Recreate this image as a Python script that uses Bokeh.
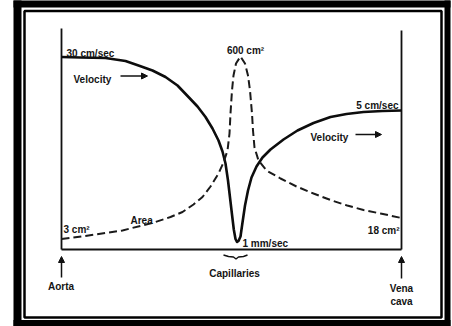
from bokeh.plotting import figure
from bokeh.models import Range1d, Label, Arrow, NormalHead
from bokeh.embed import file_html
from bokeh.resources import INLINE

# Schematic diagram units: x = distance along the circulation (0 = aorta, 340 = vena cava),
# y = height above the baseline.
velocity_x = [0, 19, 44, 64, 77, 91, 104, 116, 127, 136, 144, 151, 157, 161, 164, 166.5,
              168.5, 170.5, 172.3, 174, 175.5, 177, 179, 181, 183.5, 186.5, 190, 195, 201,
              209, 222, 236, 252, 269, 285, 302, 321, 340]
velocity_y = [192.5, 192, 191.5, 188.5, 184, 179, 172.5, 164, 152.5, 143, 132.5, 121, 109,
              98, 86, 69, 52, 35, 20, 10.5, 7.5, 8.5, 13, 27, 44, 59, 72, 83, 92, 100, 110,
              119, 126.5, 132.5, 135.5, 137.5, 138.5, 139]

area_x = [0, 27, 61, 94, 109, 121, 132, 141, 149, 157, 162, 166, 168, 169, 170.5, 172,
          174.5, 179, 183.5, 186.5, 188.5, 190.5, 191.5, 193, 197, 205, 219, 235, 252, 269,
          285.7, 302, 319, 340]
area_y = [10.5, 14, 19, 27.5, 32.5, 37.5, 45, 52.5, 63, 76, 87, 99, 116, 136, 159, 174,
          186, 193, 186, 174, 159, 136, 119, 102, 89, 79, 71, 63, 56, 49.5, 44, 39.5, 36,
          31.5]

brace_x = [162, 167, 172, 174.5, 177, 182, 186]
brace_y = [-5.5, -7, -7.5, -9.5, -7.5, -7, -5.5]

labels_top = ["30 cm/sec", "600 cm\u00b2", "5 cm/sec"]
labels_bottom = ["3 cm\u00b2", "1 mm/sec", "18 cm\u00b2"]
series_names = ["Velocity", "Area"]
place_names = ["Aorta", "Capillaries", "Vena", "cava"]

W, H = 452, 326
p = figure(width=W, height=H, output_backend="svg", toolbar_location=None,
           x_range=Range1d(-61, 391), y_range=Range1d(-77, 249),
           min_border=0, min_border_left=0, min_border_right=0,
           min_border_top=0, min_border_bottom=0,
           x_axis_location=None, y_axis_location=None)
p.grid.visible = False
p.outline_line_color = None
p.background_fill_color = "white"
p.border_fill_color = "white"

# picture frame (decoration)
p.quad(left=[-48, 383, -48, -48], right=[-40, 389, 389, 389],
       bottom=[-90, -90, 242, -90], top=[260, 260, 260, -70.5],
       fill_color="black", line_color=None)
p.quad(left=-37, right=380, bottom=-68, top=238.5, fill_color=None,
       line_color="black", line_width=2.5)

# axes of the diagram
p.line([0, 0], [0, 221], line_color="#111111", line_width=1.8)
p.line([340, 340], [0, 219], line_color="#111111", line_width=1.8)
p.line([0, 340], [0, 0], line_color="#111111", line_width=2)

# curves
p.line(velocity_x, velocity_y, line_color="#0d0d0d", line_width=2.6, line_join="round")
p.line(area_x, area_y, line_color="#1a1a1a", line_width=2, line_dash="8 4",
       line_join="round")
p.line(brace_x, brace_y, line_color="#111111", line_width=1.4)

FONT = "Liberation Sans"

def lab(x, y, t, align="left", size="10px"):
    p.add_layout(Label(x=x, y=y, text=t, text_align=align, text_baseline="alphabetic",
                       text_font=FONT, text_font_size=size, text_font_style="bold",
                       text_color="#141414"))

lab(5, 196.5, labels_top[0])
lab(184, 199, labels_top[1], "center")
lab(337, 144, labels_top[2], "right")
lab(2, 20.5, labels_bottom[0])
lab(181, 6, labels_bottom[1])
lab(338, 19.5, labels_bottom[2], "right")
lab(12, 170.5, series_names[0])
lab(249, 112, series_names[0])
lab(69, 29, series_names[1])
lab(-0.5, -37, place_names[0], "center")
lab(173, -23.5, place_names[1], "center")
lab(340, -39, place_names[2], "center")
lab(340, -52, place_names[3], "center")

def arrow(x0, y0, x1, y1):
    p.add_layout(Arrow(end=NormalHead(size=6, fill_color="#111111", line_color="#111111"),
                       x_start=x0, y_start=y0, x_end=x1, y_end=y1,
                       line_color="#111111", line_width=1.5))

arrow(59, 173.5, 86, 173.5)
arrow(294, 115, 320, 115)
arrow(0, -28, 0, -7)
arrow(340, -29, 340, -7)

open("out.html", "w").write(file_html(p, INLINE))
